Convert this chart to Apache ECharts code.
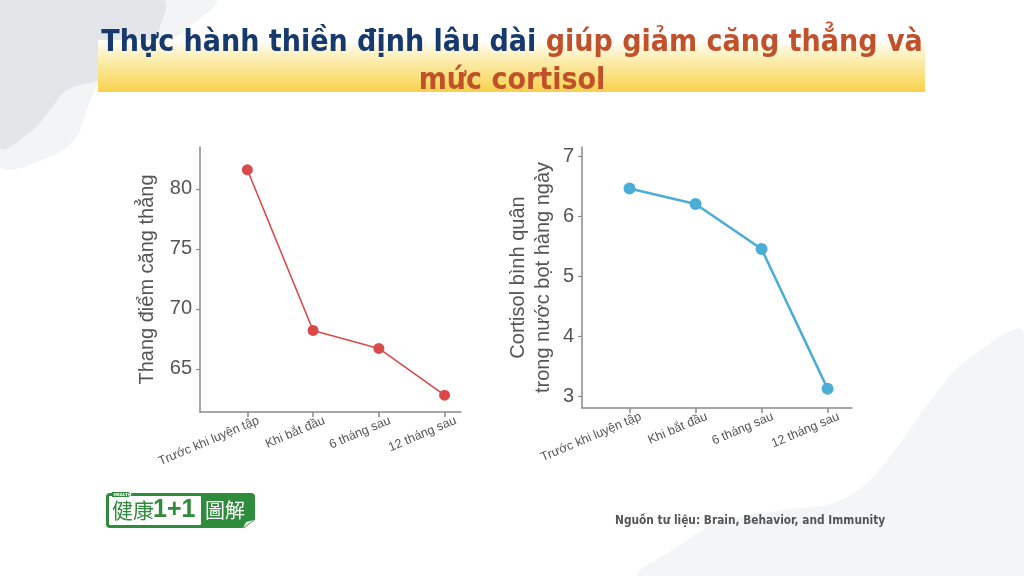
<!DOCTYPE html>
<html><head><meta charset="utf-8">
<script src="https://cdn.jsdelivr.net/npm/echarts@6/dist/echarts.min.js"></script>
<style>html,body{margin:0;padding:0;background:#fff}#c{width:1024px;height:576px}</style>
</head><body><div id="c"></div>
<script>
const categories = ['Trước khi luyện tập', 'Khi bắt đầu', '6 tháng sau', '12 tháng sau'];
const stressValues = [81.6, 68.2, 66.7, 62.8];
const cortisolValues = [6.47, 6.21, 5.46, 3.13];
const stressTicks = [65, 70, 75, 80];
const cortisolTicks = [3, 4, 5, 6, 7];

const chart = echarts.init(document.getElementById('c'));
const grey = '#555';
const axisCol = '#8a8a8a';
const tFont = '"DejaVu Sans Condensed","Liberation Sans Narrow",sans-serif';
const sFont = 'Liberation Sans, Arial, sans-serif';

function xAxisFor(gi, max) {
  return {
    type: 'value', gridIndex: gi, min: -0.72, max: max,
    splitLine: {show: false},
    axisLine: {show: true, onZero: false, lineStyle: {color: axisCol, width: 1.5}},
    axisTick: {show: true, customValues: [0,1,2,3], length: 5, lineStyle: {color: axisCol, width: 1.5}},
    axisLabel: {customValues: [0.17,1.17,2.17,3.17], rotate: 23, color: grey, fontSize: 12.5, margin: 8,
      fontFamily: sFont,
      formatter: v => categories[Math.round(v)] || ''}
  };
}
function yAxisCommon(ticks) {
  return {
    splitLine: {show: false},
    axisLine: {show: true, onZero: false, lineStyle: {color: axisCol, width: 1.5}},
    axisTick: {show: true, customValues: ticks, length: 4, lineStyle: {color: axisCol, width: 1.2}},
    axisLabel: {customValues: ticks, color: grey, fontSize: 20, margin: 8, fontFamily: sFont}
  };
}

chart.setOption({
  backgroundColor: '#fff',
  animation: false,
  graphic: [
    {type: 'polygon', silent: true, z: -11, shape: {smooth: 0.35, points: [[0,0],[215,0],[185,30],[140,62],[100,84],[86,112],[76,138],[50,157],[0,165]]}, style: {fill: '#f3f4f6'}},
    {type: 'polygon', silent: true, z: -10, shape: {smooth: 0.35, points: [[0,0],[163,0],[160,27],[147,57],[100,80],[67,90],[50,110],[33,130],[0,147]]}, style: {fill: '#e3e5e9'}},
    {type: 'polygon', silent: true, z: -10, shape: {smooth: 0.35, points: [[1024,333],[967,360],[933,397],[900,443],[867,483],[833,503],[783,510],[717,523],[680,545],[640,576],[1024,576]]}, style: {fill: '#f4f5f7'}},
    {type: 'rect', silent: true, z: -5, shape: {x: 98, y: 40, width: 827, height: 52},
      style: {fill: {type: 'linear', x: 0, y: 0, x2: 0, y2: 1, colorStops: [
        {offset: 0, color: 'rgba(255,255,255,1)'}, {offset: 0.3, color: '#fdf1bd'}, {offset: 1, color: '#f8d24c'}]}}},
    {type: 'text', z: 10, style: {x: 512, y: 28, textAlign: 'center',
      text: '{a|Thực hành thiền định lâu dài }{b|giúp giảm căng thẳng và}',
      rich: {
        a: {fill: '#173a6e', fontSize: 30, fontWeight: 'bold', fontFamily: tFont},
        b: {fill: '#c0512b', fontSize: 30, fontWeight: 'bold', fontFamily: tFont}
      }}},
    {type: 'text', z: 10, style: {x: 512, y: 66, textAlign: 'center', text: 'mức cortisol',
      fill: '#c0512b', fontSize: 30, fontWeight: 'bold', fontFamily: tFont}},
    // logo
    {type: 'group', x: 106, y: 492, children: [
      {type: 'rect', shape: {x: 0, y: 1, width: 149, height: 35, r: 4}, style: {fill: '#2f8c3c'}},
      {type: 'rect', shape: {x: 3, y: 4, width: 92, height: 29, r: 1}, style: {fill: '#fff'}},
      {type: 'rect', shape: {x: 6, y: 0, width: 17, height: 5}, style: {fill: '#2f8c3c'}},
      {type: 'text', style: {x: 7.5, y: 0.5, text: 'HEALTH', fill: '#fff', fontSize: 4.2, fontWeight: 'bold', fontFamily: 'DejaVu Sans'}},
      {type: 'text', style: {x: 6, y: 8, text: '健康', fill: '#2f8c3c', fontSize: 21, fontFamily: '"Noto Sans CJK TC"'}},
      {type: 'text', style: {x: 47, y: 6, text: '1+1', fill: '#2f8c3c', fontSize: 25, fontWeight: 'bold', fontFamily: sFont}},
      {type: 'text', style: {x: 99, y: 8, text: '圖解', fill: '#fff', fontSize: 20, fontFamily: '"Noto Sans CJK TC"'}},
      {type: 'polygon', shape: {points: [[137, 37], [150, 37], [150, 27]]}, style: {fill: '#fff'}},
      {type: 'polygon', shape: {points: [[137, 36], [140, 30], [148, 28]]}, style: {fill: '#dfe9df'}}
    ]},
    {type: 'text', style: {x: 615, y: 515, text: 'Nguồn tư liệu: Brain, Behavior, and Immunity', fill: '#555', fontSize: 11.8, fontWeight: 'bold', fontFamily: tFont}}
  ],
  grid: [
    {left: 200, right: 563, top: 147, bottom: 164},
    {left: 582, right: 172, top: 147, bottom: 168}
  ],
  xAxis: [xAxisFor(0, 3.25), xAxisFor(1, 3.37)],
  yAxis: [
    Object.assign({type: 'value', gridIndex: 0, min: 61.4, max: 83.5,
      name: 'Thang điểm căng thẳng', nameLocation: 'middle', nameGap: 43, nameRotate: 90,
      nameTextStyle: {color: grey, fontSize: 20, fontFamily: sFont}}, yAxisCommon(stressTicks)),
    Object.assign({type: 'value', gridIndex: 1, min: 2.81, max: 7.16,
      name: 'Cortisol bình quân\ntrong nước bọt hàng ngày', nameLocation: 'middle', nameGap: 26, nameRotate: 90,
      nameTextStyle: {color: grey, fontSize: 20, lineHeight: 25, fontFamily: sFont}}, yAxisCommon(cortisolTicks))
  ],
  series: [
    {type: 'line', xAxisIndex: 0, yAxisIndex: 0, data: stressValues.map((v, i) => [i, v]),
      symbol: 'circle', symbolSize: 11, lineStyle: {color: '#db4a4b', width: 1.6}, itemStyle: {color: '#db4a4b'}},
    {type: 'line', xAxisIndex: 1, yAxisIndex: 1, data: cortisolValues.map((v, i) => [i, v]),
      symbol: 'circle', symbolSize: 12, lineStyle: {color: '#4aaed6', width: 2.6}, itemStyle: {color: '#4aaed6'}}
  ]
});
</script></body></html>
